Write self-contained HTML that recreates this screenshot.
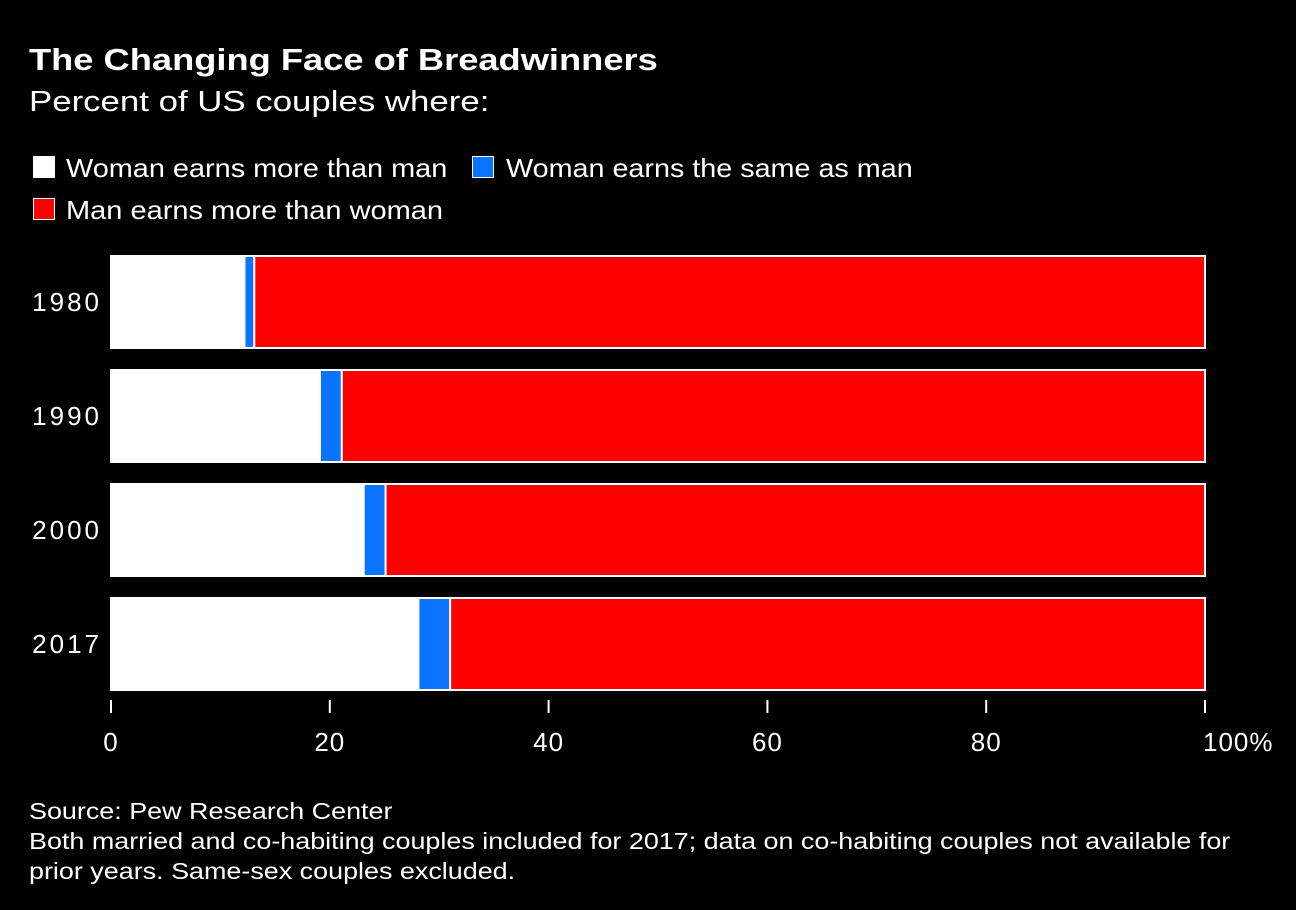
<!DOCTYPE html>
<html><head><meta charset="utf-8"><style>
body{margin:0;background:#000;width:1296px;height:910px;overflow:hidden;font-family:"Liberation Sans",Arial,sans-serif;color:#fff;}
.t{position:absolute;white-space:nowrap;transform-origin:0 0;}
</style></head><body>
<div class="t" style="left:29px;top:42px;font-size:31px;font-weight:bold;transform:scaleX(1.17)">The Changing Face of Breadwinners</div>
<div class="t" style="left:29px;top:86px;font-size:29px;transform:scaleX(1.2)">Percent of US couples where:</div>
<div>
<div style="position:absolute;left:33px;top:156px;width:22px;height:22px;background:#fff"></div>
<div class="t" style="left:66px;top:153px;font-size:26px;transform:scaleX(1.11)">Woman earns more than man</div>
<div style="position:absolute;left:472px;top:156px;width:20px;height:20px;background:#0a73ff;border:1px solid #fff"></div>
<div class="t" style="left:506px;top:153px;font-size:26px;transform:scaleX(1.105)">Woman earns the same as man</div>
<div style="position:absolute;left:33px;top:198px;width:20px;height:20px;background:#f00;border:1px solid #fff"></div>
<div class="t" style="left:66px;top:195px;font-size:26px;transform:scaleX(1.115)">Man earns more than woman</div>
</div>
<svg id="chart" width="1296" height="910" style="position:absolute;left:0;top:0"></svg>
<div class="t" style="left:29px;top:796px;font-size:23px;line-height:30px;transform:scaleX(1.17)">Source: Pew Research Center<br>Both married and co-habiting couples included for 2017; data on co-habiting couples not available for<br>prior years. Same-sex couples excluded.</div>
<script>
const years=["1980","1990","2000","2017"];
const womanMore=[12.2,19.1,23.1,28.1];
const same=[0.9,2.0,2.0,2.9];
const manMore=[86.9,78.9,74.9,69.0];
const ticks=[0,20,40,60,80,100];
const tickLabels=["0","20","40","60","80","100%"];
const svg=document.getElementById('chart');
const NS="http://www.w3.org/2000/svg";
const x=v=>111+v*10.94;
const y=i=>256+i*114;
const bh=92;
function el(t,a){const e=document.createElementNS(NS,t);for(const k in a)e.setAttribute(k,a[k]);svg.appendChild(e);return e;}
years.forEach((yr,i)=>{
  const segs=[[0,womanMore[i],'#fff','segment-woman-more'],[womanMore[i],same[i],'#0a73ff','segment-same'],[womanMore[i]+same[i],manMore[i],'#f00','segment-man-more']];
  segs.forEach(s=>{
    const r=el('rect',{x:x(s[0]),y:y(i),width:x(s[0]+s[1])-x(s[0]),height:bh,fill:s[2],stroke:'#fff','stroke-width':2});
    
    
  });
  const t=el('text',{x:102,y:y(i)+bh/2+9,'text-anchor':'end',fill:'#fff','font-size':26,'letter-spacing':3,'font-family':'Liberation Sans, sans-serif'});
  t.textContent=yr;
  
  
});
ticks.forEach((v,i)=>{
  const l=el('line',{x1:x(v),x2:x(v),y1:700,y2:713,stroke:'#fff','stroke-width':2});
  
  
  const t=el('text',{x:i==ticks.length-1?x(v)-2:x(v),y:751,'text-anchor':i==ticks.length-1?'start':'middle',fill:'#fff','font-size':26,'letter-spacing':1,'font-family':'Liberation Sans, sans-serif'});
  t.textContent=tickLabels[i];
  
  
});
</script>
</body></html>
